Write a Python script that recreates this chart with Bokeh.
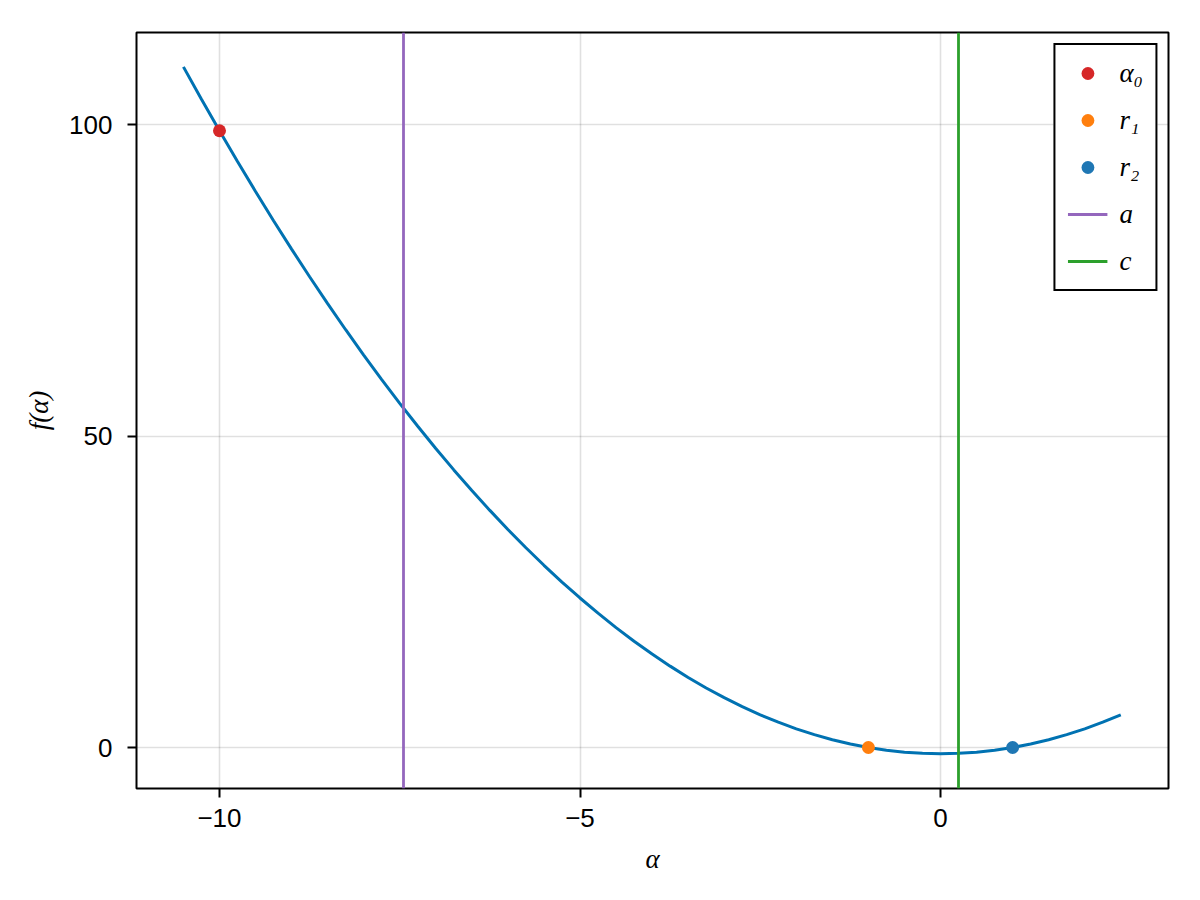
from bokeh.plotting import figure
from bokeh.models import Range1d, FixedTicker
from bokeh.embed import file_html
from bokeh.resources import INLINE

# curve f(alpha)
curve_x = [-10.5, -10.25, -10.0, -9.75, -9.5, -9.25, -9.0, -8.75, -8.5, -8.25, -8.0, -7.75,
           -7.5, -7.25, -7.0, -6.75, -6.5, -6.25, -6.0, -5.75, -5.5, -5.25, -5.0, -4.75,
           -4.5, -4.25, -4.0, -3.75, -3.5, -3.25, -3.0, -2.75, -2.5, -2.25, -2.0, -1.75,
           -1.5, -1.25, -1.0, -0.75, -0.5, -0.25, 0.0, 0.25, 0.5, 0.75, 1.0, 1.25, 1.5,
           1.75, 2.0, 2.25, 2.5]
curve_y = [109.25, 104.06, 99.0, 94.06, 89.25, 84.56, 80.0, 75.56, 71.25, 67.06, 63.0, 59.06,
           55.25, 51.56, 48.0, 44.56, 41.25, 38.06, 35.0, 32.06, 29.25, 26.56, 24.0, 21.56,
           19.25, 17.06, 15.0, 13.06, 11.25, 9.56, 8.0, 6.56, 5.25, 4.06, 3.0, 2.06,
           1.25, 0.56, 0.0, -0.44, -0.75, -0.94, -1.0, -0.94, -0.75, -0.44, 0.0, 0.56, 1.25,
           2.06, 3.0, 4.06, 5.25]

# points
alpha0_x, alpha0_y = [-10.0], [99.0]
r1_x, r1_y = [-1.0], [0.0]
r2_x, r2_y = [1.0], [0.0]

# vertical lines
a_x = [-7.45]
c_x = [0.25]

x_ticks = [-10, -5, 0]
x_tick_labels = {-10: "\u221210", -5: "\u22125", 0: "0"}
y_ticks = [0, 50, 100]

p = figure(width=1192, height=892, output_backend="svg", toolbar_location=None,
           x_range=Range1d(-11.151, 3.162), y_range=Range1d(-6.58, 114.77),
           min_border_left=136, min_border_right=24, min_border_top=32, min_border_bottom=104)
p.background_fill_color = "white"
p.border_fill_color = "white"
p.outline_line_color = "black"
p.outline_line_width = 2

p.line(curve_x, curve_y, line_color="#0072b2", line_width=3)
p.vspan(x=a_x, line_color="#9467bd", line_width=2.8, legend_label="a")
p.vspan(x=c_x, line_color="#2ca02c", line_width=2.8, legend_label="c")
p.scatter(alpha0_x, alpha0_y, size=13, fill_color="#d62728", line_color=None, legend_label="\u03b1\u2080")
p.scatter(r1_x, r1_y, size=13, fill_color="#ff7f0e", line_color=None, legend_label="r\u2081")
p.scatter(r2_x, r2_y, size=13, fill_color="#1f77b4", line_color=None, legend_label="r\u2082")

leg = p.legend[0]
items = list(leg.items)
labels = [it.label.value for it in items]
order = ["\u03b1\u2080", "r\u2081", "r\u2082", "a", "c"]
leg.items = [items[labels.index(o)] for o in order]
leg.location = "top_right"
leg.margin = 11
leg.padding = 12
leg.spacing = 15
leg.glyph_width = 40
leg.glyph_height = 32
leg.label_height = 32
leg.label_standoff = 12
leg.label_text_font = "Liberation Serif"
leg.label_text_font_style = "italic"
leg.label_text_font_size = "27px"
leg.label_text_color = "black"
leg.border_line_color = "black"
leg.border_line_alpha = 1.0
leg.border_line_width = 2
leg.background_fill_alpha = 1.0

for ax in (p.xaxis[0], p.yaxis[0]):
    ax.axis_line_color = None
    ax.major_tick_line_color = "black"
    ax.major_tick_line_width = 2
    ax.major_tick_out = 9
    ax.major_tick_in = 0
    ax.minor_tick_line_color = None
    ax.major_label_text_font = "Liberation Sans"
    ax.major_label_text_font_size = "26px"
    ax.major_label_text_color = "black"
    ax.axis_label_text_font = "Liberation Serif"
    ax.axis_label_text_font_style = "italic"
    ax.axis_label_text_font_size = "27px"
    ax.axis_label_text_color = "black"

p.xaxis.ticker = FixedTicker(ticks=x_ticks)
p.xaxis.major_label_overrides = x_tick_labels
p.yaxis.ticker = FixedTicker(ticks=y_ticks)
p.xaxis.axis_label = "\u03b1"
p.yaxis.axis_label = "f(\u03b1)"
p.xaxis.major_label_standoff = 11
p.xaxis.axis_label_standoff = 14
p.yaxis.major_label_standoff = 15
p.yaxis.axis_label_standoff = 12

p.xgrid.ticker = FixedTicker(ticks=x_ticks)
p.ygrid.ticker = FixedTicker(ticks=y_ticks)
for g in (p.xgrid[0], p.ygrid[0]):
    g.grid_line_color = "#000000"
    g.grid_line_alpha = 0.12
    g.grid_line_width = 1.6

open("out.html", "w").write(file_html(p, INLINE))
